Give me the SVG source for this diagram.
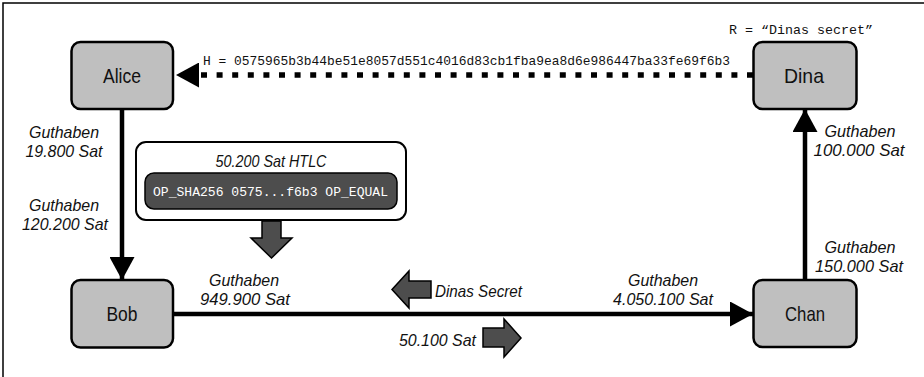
<svg xmlns="http://www.w3.org/2000/svg" width="924" height="377" viewBox="0 0 924 377">
<style>
.node rect{fill:#bfbfbf;stroke:#000;stroke-width:2.5}
.nlabel{font-family:"Liberation Sans",Arial,sans-serif;font-size:21px;fill:#111;text-anchor:middle}
.lbl{font-family:"Liberation Sans",Arial,sans-serif;font-style:italic;font-size:17px;fill:#111;text-anchor:middle}
.mono{font-family:"Liberation Mono","DejaVu Sans Mono",monospace;font-size:13px;fill:#111}
.conn{fill:none;stroke:#000;stroke-width:4.5}
.dash{stroke-width:5.5;stroke-dasharray:6 9.6}
.block{fill:#4d4d4d;stroke:#000;stroke-width:1.5;stroke-linejoin:miter}
</style>
<defs>
<marker id="ah" viewBox="0 0 23 25" markerWidth="23" markerHeight="25" refX="23" refY="12.5" orient="auto" markerUnits="userSpaceOnUse">
<path d="M0,0 L23,12.5 L0,25 Z" fill="#000"/>
</marker>
</defs>
<rect width="924" height="377" fill="#fff"/>
<path d="M3,377 V3 H924" fill="none" stroke="#000" stroke-width="1.5"/>

<g id="connectors">
<path class="conn" d="M122,109 V280" marker-end="url(#ah)"/>
<path class="conn" d="M173,314 H753" marker-end="url(#ah)"/>
<path class="conn" d="M805,280 V109" marker-end="url(#ah)"/>
<path class="conn dash" d="M753,75 H176" marker-end="url(#ah)"/>
</g>

<g id="alice" class="node">
<rect x="71.5" y="42" width="101.5" height="67" rx="9"/>
<text class="nlabel" x="122" y="83" textLength="38" lengthAdjust="spacingAndGlyphs">Alice</text>
</g>
<g id="bob" class="node">
<rect x="71.5" y="280" width="101.5" height="67.5" rx="9"/>
<text class="nlabel" x="122" y="321" textLength="31" lengthAdjust="spacingAndGlyphs">Bob</text>
</g>
<g id="chan" class="node">
<rect x="753.5" y="280" width="103" height="67" rx="9"/>
<text class="nlabel" x="805" y="321" textLength="40" lengthAdjust="spacingAndGlyphs">Chan</text>
</g>
<g id="dina" class="node">
<rect x="753.5" y="42" width="103" height="67" rx="9"/>
<text class="nlabel" x="804" y="83" textLength="40" lengthAdjust="spacingAndGlyphs">Dina</text>
</g>

<g id="htlc">
<rect x="136" y="142" width="270" height="78" rx="10" fill="#fff" stroke="#000" stroke-width="2"/>
<text class="lbl" x="271" y="167" textLength="111" lengthAdjust="spacingAndGlyphs">50.200 Sat HTLC</text>
<rect x="145" y="173" width="252" height="36" rx="9" fill="#4d4d4d" stroke="#000" stroke-width="1.5"/>
<text class="mono" x="153" y="196" style="fill:#fff" textLength="235" lengthAdjust="spacingAndGlyphs">OP_SHA256 0575...f6b3 OP_EQUAL</text>
<polygon class="block" points="262,221 281,221 281,238 292,238 271.5,258 251,238 262,238"/>
</g>

<g id="hash-label">
<text class="mono" x="203" y="65" textLength="527" lengthAdjust="spacingAndGlyphs">H = 0575965b3b44be51e8057d551c4016d83cb1fba9ea8d6e986447ba33fe69f6b3</text>
</g>
<g id="secret-label">
<text class="mono" x="729" y="34" textLength="144" lengthAdjust="spacingAndGlyphs">R = “Dinas secret”</text>
</g>

<g id="balances">
<text class="lbl" x="64" y="138" textLength="70" lengthAdjust="spacingAndGlyphs">Guthaben</text>
<text class="lbl" x="64" y="157" textLength="77" lengthAdjust="spacingAndGlyphs">19.800 Sat</text>
<text class="lbl" x="64" y="211" textLength="70" lengthAdjust="spacingAndGlyphs">Guthaben</text>
<text class="lbl" x="65" y="230" textLength="86" lengthAdjust="spacingAndGlyphs">120.200 Sat</text>
<text class="lbl" x="244" y="286" textLength="70" lengthAdjust="spacingAndGlyphs">Guthaben</text>
<text class="lbl" x="245" y="305" textLength="90" lengthAdjust="spacingAndGlyphs">949.900 Sat</text>
<text class="lbl" x="663" y="286" textLength="70" lengthAdjust="spacingAndGlyphs">Guthaben</text>
<text class="lbl" x="663" y="305" textLength="100" lengthAdjust="spacingAndGlyphs">4.050.100 Sat</text>
<text class="lbl" x="860" y="137" textLength="71" lengthAdjust="spacingAndGlyphs">Guthaben</text>
<text class="lbl" x="859" y="156" textLength="91" lengthAdjust="spacingAndGlyphs">100.000 Sat</text>
<text class="lbl" x="860" y="253" textLength="71" lengthAdjust="spacingAndGlyphs">Guthaben</text>
<text class="lbl" x="859" y="272" textLength="88" lengthAdjust="spacingAndGlyphs">150.000 Sat</text>
</g>

<g id="flow-secret">
<polygon class="block" points="392,289.5 409,271 409,281 431,281 431,298 409,298 409,308"/>
<text class="lbl" x="435" y="297" style="text-anchor:start" textLength="87" lengthAdjust="spacingAndGlyphs">Dinas Secret</text>
</g>
<g id="flow-sat">
<polygon class="block" points="483,328 504,328 504,319 521,338 504,357 504,347 483,347"/>
<text class="lbl" x="399" y="346" style="text-anchor:start" textLength="77" lengthAdjust="spacingAndGlyphs">50.100 Sat</text>
</g>
</svg>
